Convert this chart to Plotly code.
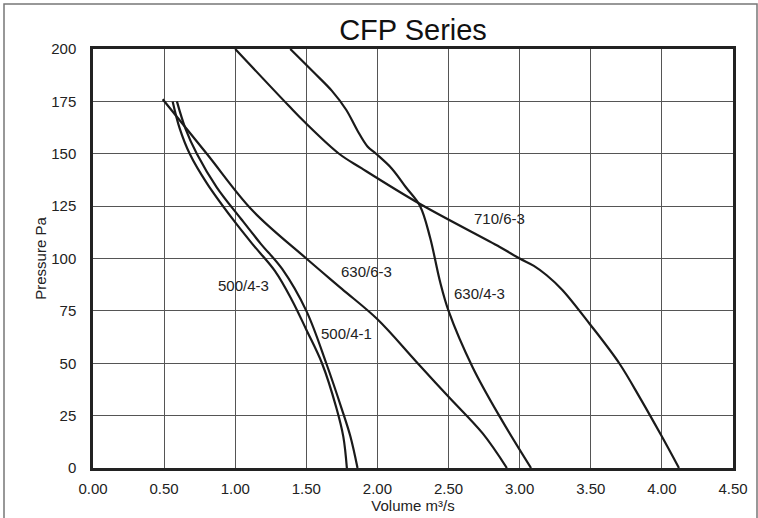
import plotly.graph_objects as go

# Fan curves (Volume m³/s, Pressure Pa)
x_500_4_3 = [0.56, 0.61, 0.68, 0.80, 0.98, 1.12, 1.28, 1.40, 1.50, 1.61, 1.71, 1.76, 1.785]
y_500_4_3 = [175, 162, 150, 136, 119, 107, 94, 80, 66, 50, 29, 15, 0]

x_500_4_1 = [0.59, 0.65, 0.73, 0.87, 1.04, 1.18, 1.33, 1.50, 1.64, 1.75, 1.81, 1.86]
y_500_4_1 = [175, 162, 150, 134, 119, 107, 95, 75, 50, 28, 15, 0]

x_630_6_3 = [0.49, 0.80, 1.12, 1.50, 1.75, 2.00, 2.27, 2.50, 2.74, 2.91]
y_630_6_3 = [176, 150, 123, 100, 85.5, 71, 51, 34, 16.5, 0]

x_630_4_3 = [1.387, 1.55, 1.68, 1.78, 1.86, 1.93, 1.99, 2.10, 2.20, 2.30, 2.37, 2.44, 2.50, 2.67, 2.86, 3.08]
y_630_4_3 = [200, 189, 180, 171, 161, 153.5, 150, 143, 134, 125, 110, 89, 75, 48, 24.5, 0]

x_710_6_3 = [1.0, 1.375, 1.49, 1.73, 1.89, 2.30, 2.86, 3.0, 3.1, 3.19, 3.30, 3.49, 3.70, 3.85, 4.0, 4.12]
y_710_6_3 = [200, 173, 165, 150, 143, 126, 105.5, 100, 96.5, 92, 85, 69, 50, 33, 15, 0]

series_names = ["500/4-3", "500/4-1", "630/6-3", "630/4-3", "710/6-3"]
series_x = [x_500_4_3, x_500_4_1, x_630_6_3, x_630_4_3, x_710_6_3]
series_y = [y_500_4_3, y_500_4_1, y_630_6_3, y_630_4_3, y_710_6_3]

# curve label positions (data coords)
label_x = [1.06, 1.78, 1.925, 2.72, 2.86]
label_y = [87, 64, 94, 83.5, 119]

x_ticks = [0.0, 0.5, 1.0, 1.5, 2.0, 2.5, 3.0, 3.5, 4.0, 4.5]
y_ticks = [0, 25, 50, 75, 100, 125, 150, 175, 200]

FONT = "Liberation Sans, Arial, sans-serif"
TXT = "#222"

fig = go.Figure()
for name, xs, ys in zip(series_names, series_x, series_y):
    fig.add_trace(go.Scatter(
        x=xs, y=ys, mode="lines", name=name,
        line=dict(color="#1a1a1a", width=2.2, shape="spline", smoothing=1.0),
        hoverinfo="x+y+name",
    ))

for name, lx, ly in zip(series_names, label_x, label_y):
    fig.add_annotation(x=lx, y=ly, text=name, showarrow=False,
                       font=dict(family=FONT, size=15, color=TXT))

# outer border of the whole graphic (plot area is 640 x 419 px, at l=93, t=49)
fig.add_shape(type="rect", xref="paper", yref="paper",
              x0=-89 / 640, x1=(757 - 93) / 640, y0=-55 / 419, y1=(468 - 4) / 419,
              line=dict(color="#777", width=1.5), layer="below")

fig.update_layout(
    width=758, height=518,
    margin=dict(l=93, r=25, t=49, b=50, pad=0),
    paper_bgcolor="white", plot_bgcolor="white",
    showlegend=False,
    title=dict(text="CFP Series", x=0.5, xanchor="center", xref="paper",
               y=1 - 30 / 518, yanchor="middle",
               font=dict(family=FONT, size=29, color="#111")),
    font=dict(family=FONT, size=15, color=TXT),
)
fig.update_xaxes(
    range=[0, 4.5], tickvals=x_ticks, tickformat=".2f", automargin=False,
    showgrid=True, gridcolor="#555", gridwidth=1,
    showline=True, linecolor="#222", linewidth=2.5, mirror=True,
    ticks="", zeroline=False, ticklabelstandoff=5,
    title=dict(text="Volume m³/s", font=dict(family=FONT, size=15, color=TXT), standoff=4),
    tickfont=dict(family=FONT, size=15, color=TXT),
)
fig.update_yaxes(
    range=[0, 200], tickvals=y_ticks, automargin=False,
    showgrid=True, gridcolor="#555", gridwidth=1,
    showline=True, linecolor="#222", linewidth=2.5, mirror=True,
    ticks="", zeroline=False, ticklabelstandoff=11,
    title=dict(text="Pressure Pa", font=dict(family=FONT, size=15, color=TXT), standoff=1),
    tickfont=dict(family=FONT, size=15, color=TXT),
)

fig.write_html("out.html", config={"displayModeBar": False},
               post_script="document.body.style.margin='0';document.body.style.overflow='hidden';")
